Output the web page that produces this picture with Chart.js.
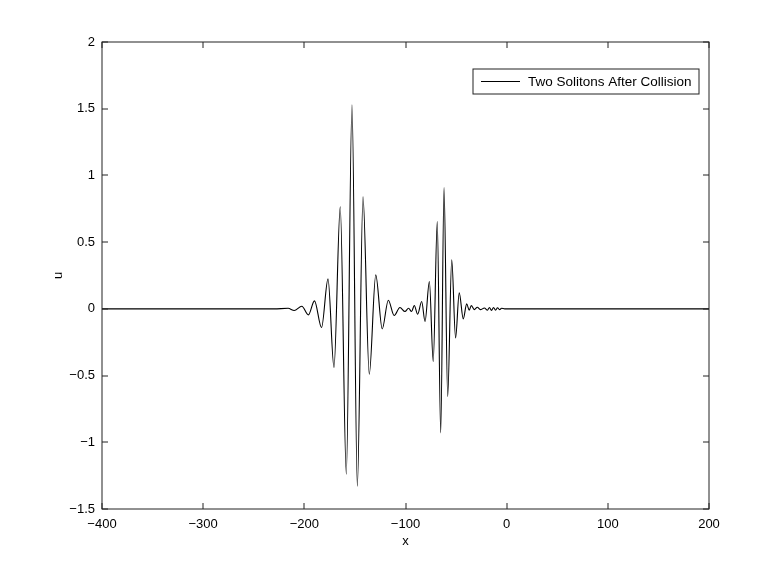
<!DOCTYPE html>
<html>
<head>
<meta charset="utf-8">
<script src="https://cdn.jsdelivr.net/npm/chart.js@4.4.0/dist/chart.umd.min.js"></script>
<style>
  html, body { margin: 0; padding: 0; background: #fff; }
  canvas { display: block; }
</style>
</head>
<body>
<canvas id="solitonChart" width="782" height="575"></canvas>
<script>
// valeurs (extrema de u)
const xValues = [-400, -230, -216, -210, -202.5, -196, -190, -183, -176.6, -170.7, -164.5, -158.5, -152.9, -147.6, -142, -135.8, -129.4, -123, -117, -111.2, -105.5, -100.5, -97, -94, -91.3, -88, -84, -80.7, -76.4, -72.6, -68.6, -65.2, -61.9, -58.3, -54.3, -50.5, -46.9, -42.9, -39.5, -37, -35, -32, -29, -26, -22, -19, -17, -15, -13, -11, -9, -7, -5, -2, 5, 200];
const uValues = [0, 0, 0.004, -0.012, 0.02, -0.045, 0.06, -0.14, 0.225, -0.44, 0.765, -1.24, 1.53, -1.33, 0.84, -0.49, 0.255, -0.15, 0.065, -0.05, 0.01, -0.02, 0.005, -0.02, 0.025, -0.04, 0.055, -0.095, 0.205, -0.395, 0.655, -0.93, 0.91, -0.657, 0.367, -0.218, 0.12, -0.075, 0.037, -0.01, 0.025, -0.006, 0.012, -0.006, 0.006, -0.01, 0.01, -0.012, 0.01, -0.01, 0.008, -0.006, 0.004, 0, 0, 0];
const xTicks = [-400, -300, -200, -100, 0, 100, 200];
const yTicks = [-1.5, -1, -0.5, 0, 0.5, 1, 1.5, 2];
const seriesLabel = 'Two Solitons After Collision';
const xTitle = 'x';
const yTitle = 'u';

const points = xValues.map((x, i) => ({ x: x, y: uValues[i] }));
const fontFamily = '"Liberation Sans", Arial, Helvetica, sans-serif';

function minus(v) {
    return String(v).replace('-', '\u2212');
}

// cadre, graduations intérieures, légende et titres des axes
const matlabFrame = {
    id: 'matlabFrame',
    afterDraw(chart) {
        const ctx = chart.ctx;
        const a = chart.chartArea;
        const xs = chart.scales.x;
        const ys = chart.scales.y;
        ctx.save();
        ctx.strokeStyle = '#222';
        ctx.lineWidth = 1;
        ctx.strokeRect(Math.round(a.left), Math.round(a.top),
            Math.round(a.right - a.left), Math.round(a.bottom - a.top));
        ctx.beginPath();
        xTicks.forEach(t => {
            const px = Math.round(xs.getPixelForValue(t));
            ctx.moveTo(px, a.bottom); ctx.lineTo(px, a.bottom - 6);
            ctx.moveTo(px, a.top); ctx.lineTo(px, a.top + 6);
        });
        yTicks.forEach(t => {
            const py = Math.round(ys.getPixelForValue(t));
            ctx.moveTo(a.left, py); ctx.lineTo(a.left + 6, py);
            ctx.moveTo(a.right, py); ctx.lineTo(a.right - 6, py);
        });
        ctx.stroke();

        // légende
        const bx = 473, by = 69, bw = 226, bh = 25;
        ctx.fillStyle = '#fff';
        ctx.fillRect(bx, by, bw, bh);
        ctx.strokeRect(bx, by, bw, bh);
        ctx.strokeStyle = '#000';
        ctx.beginPath();
        ctx.moveTo(481, 81.5); ctx.lineTo(520, 81.5);
        ctx.stroke();
        ctx.fillStyle = '#000';
        ctx.font = '13.5px ' + fontFamily;
        ctx.textBaseline = 'middle';
        ctx.textAlign = 'left';
        ctx.fillText(seriesLabel, 528, 82);

        // titres des axes
        ctx.font = '13px ' + fontFamily;
        ctx.textAlign = 'center';
        ctx.fillText(xTitle, (a.left + a.right) / 2, 541);
        ctx.translate(58, (a.top + a.bottom) / 2);
        ctx.rotate(-Math.PI / 2);
        ctx.fillText(yTitle, 0, 0);
        ctx.restore();
    }
};

const ctx = document.getElementById('solitonChart').getContext('2d');
new Chart(ctx, {
    type: 'line',
    data: {
        datasets: [{
            label: seriesLabel,
            data: points,
            borderColor: '#000',
            borderWidth: 1.1,
            pointRadius: 0,
            fill: false,
            cubicInterpolationMode: 'monotone'
        }]
    },
    options: {
        responsive: false,
        animation: false,
        layout: { padding: { top: 42, right: 73, left: 0, bottom: 0 } },
        plugins: {
            legend: { display: false },
            tooltip: { enabled: false }
        },
        scales: {
            x: {
                type: 'linear',
                min: -400,
                max: 200,
                afterBuildTicks: s => { s.ticks = xTicks.map(v => ({ value: v })); },
                afterFit: s => { s.height = 66; },
                grid: { display: false, drawTicks: false },
                border: { display: false },
                ticks: {
                    color: '#000',
                    padding: 8,
                    maxRotation: 0,
                    font: { family: fontFamily, size: 13 },
                    callback: v => minus(v)
                }
            },
            y: {
                type: 'linear',
                min: -1.5,
                max: 2,
                afterBuildTicks: s => { s.ticks = yTicks.map(v => ({ value: v })); },
                afterFit: s => { s.width = 102; },
                grid: { display: false, drawTicks: false },
                border: { display: false },
                ticks: {
                    color: '#000',
                    padding: 7,
                    font: { family: fontFamily, size: 13 },
                    callback: v => minus(v)
                }
            }
        }
    },
    plugins: [matlabFrame]
});
</script>
</body>
</html>
